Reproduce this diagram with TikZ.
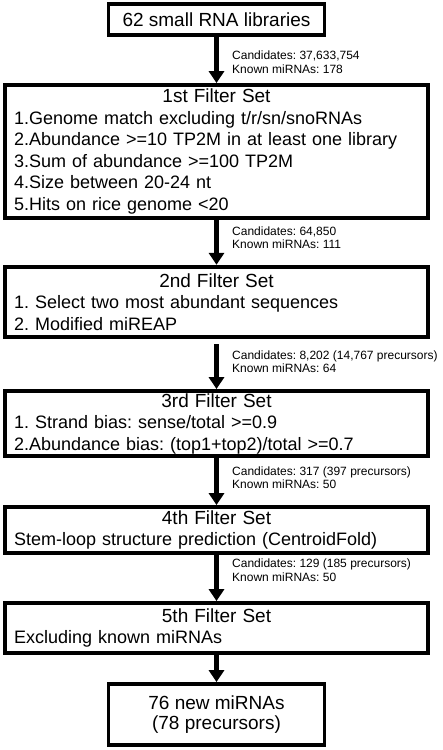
\documentclass[tikz,border=0pt]{standalone}
\usepackage{fontspec}
\setmainfont{Liberation Sans}
\usetikzlibrary{arrows.meta}
\frenchspacing
\newcommand{\filtertitle}[1]{{\centering\fontsize{19}{21.5}\selectfont #1\par}}

\begin{document}
	\begin{tikzpicture}
		[x=1pt,y=-1pt,
		box/.style={draw,line width=3.8pt,inner xsep=9pt,inner ysep=0pt,
			font=\fontsize{18}{21.5}\selectfont},
		wide/.style={box,minimum width=423pt,text width=405pt,align=left},
		narrow/.style={box,minimum width=216pt,align=center,
			font=\fontsize{19}{20.5}\selectfont},
		note/.style={anchor=west,align=left,inner sep=0pt,
			font=\fontsize{12}{13.5}\selectfont},
		flow/.style={line width=4.5pt,-{Triangle[width=15pt,length=12pt]}}]
		\useasboundingbox (0,0) rectangle (442,750);
		\node[narrow,minimum height=31pt] (lib) at (216.5,19.5) {62 small RNA libraries};
		\node[wide,minimum height=133pt] (fone) at (216.5,151.5) {\filtertitle{1st Filter Set}
			1.Genome match excluding t/r/sn/snoRNAs\\
			2.Abundance >=10 TP2M in at least one library\\
			3.Sum of abundance >=100 TP2M\\
			4.Size between 20-24 nt\\
			5.Hits on rice genome <20};
		\node[wide,minimum height=70.5pt] (ftwo) at (216.5,302) {\filtertitle{2nd Filter Set}
			1. Select two most abundant sequences\\
			2. Modified miREAP};
		\node[wide,minimum height=65pt] (fthree) at (216.5,423.5) {\filtertitle{3rd Filter Set}
			1. Strand bias: sense/total >=0.9\\
			2.Abundance bias: (top1+top2)/total >=0.7};
		\node[wide,minimum height=46pt] (ffour) at (216.5,530) {\filtertitle{4th Filter Set}
			Stem-loop structure prediction (CentroidFold)};
		\node[wide,minimum height=50pt] (ffive) at (216.5,628) {\filtertitle{5th Filter Set}
			Excluding known miRNAs};
		\node[narrow,minimum height=61pt] (newmir) at (216.5,714.5) {76 new miRNAs\\(78 precursors)};
		\draw[flow] (lib) -- (fone);
		\draw[flow] (fone) -- (ftwo);
		\draw[flow] ([yshift=-5pt]ftwo.south) -- (fthree);
		\draw[flow] (fthree) -- (ffour);
		\draw[flow] (ffour) -- (ffive);
		\draw[flow] (ffive) -- (newmir);
		\node[note] (cone) at (232,62) {Candidates: 37,633,754\\Known miRNAs: 178};
		\node[note] (ctwo) at (232,237.5) {Candidates: 64,850\\Known miRNAs: 111};
		\node[note] (cthree) at (232,361.5) {Candidates: 8,202 (14,767 precursors)\\Known miRNAs: 64};
		\node[note] (cfour) at (232,477.5) {Candidates: 317 (397 precursors)\\Known miRNAs: 50};
		\node[note] (cfive) at (232,570) {Candidates: 129 (185 precursors)\\Known miRNAs: 50};
	\end{tikzpicture}
\end{document}
